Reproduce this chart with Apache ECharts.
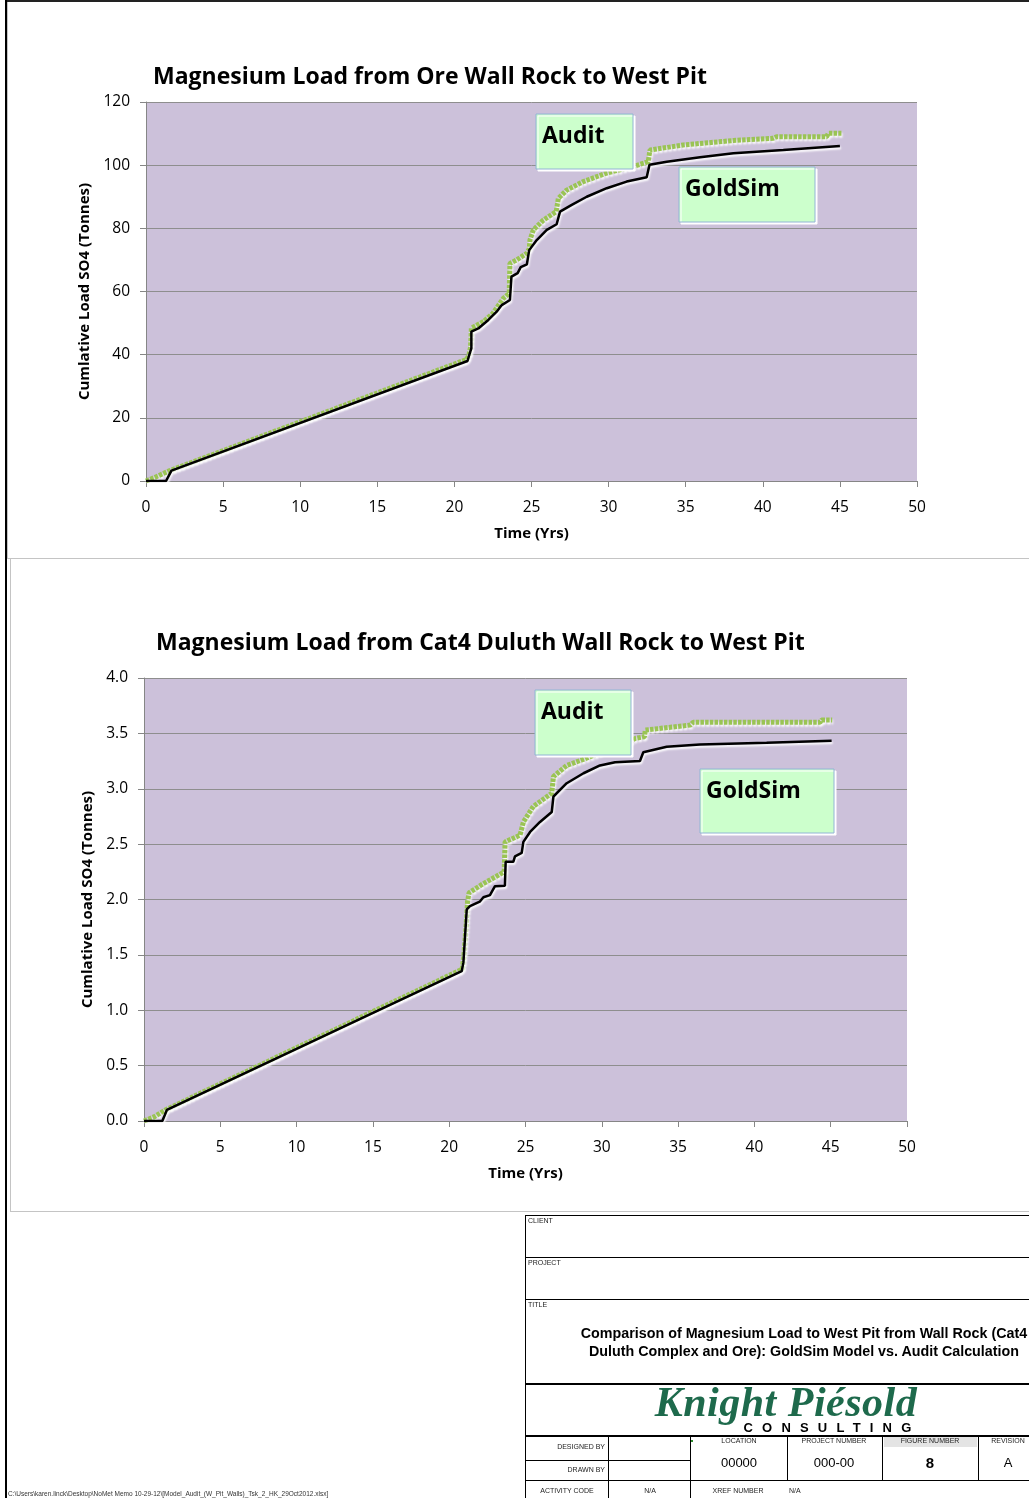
<!DOCTYPE html>
<html>
<head>
<meta charset="utf-8">
<script src="https://cdn.jsdelivr.net/npm/echarts@6/dist/echarts.min.js"></script>
<style>
  html, body { margin: 0; padding: 0; background: #fff; }
  body { width: 1029px; height: 1498px; position: relative; overflow: hidden; }
  #chart { position: absolute; left: 0; top: 0; width: 1029px; height: 1498px; }
  .ln { position: absolute; pointer-events: none; }
  .tb { position: absolute; font-family: "Liberation Sans", Arial, sans-serif; color: #000; white-space: nowrap; }
  .sm { font-size: 7px; color: #222; }
  .ctr { transform: translateX(-50%); text-align: center; }
</style>
</head>
<body>
<div id="chart"></div>

<!-- sheet frame -->
<div class="ln" style="left:5px;top:0;width:1024px;height:2px;background:#222"></div>
<div class="ln" style="left:5px;top:0;width:2px;height:1498px;background:#000"></div>
<div class="ln" style="left:7px;top:2px;width:1px;height:557px;background:#c4c4c4"></div>
<div class="ln" style="left:7px;top:558px;width:1022px;height:1px;background:#c4c4c4"></div>
<div class="ln" style="left:10px;top:559px;width:1px;height:652px;background:#c4c4c4"></div>
<div class="ln" style="left:10px;top:1211px;width:1019px;height:1px;background:#c4c4c4"></div>

<!-- title block -->
<div class="ln" style="left:525px;top:1215px;width:560px;height:290px;border:1.5px solid #000;box-sizing:border-box"></div>
<div class="ln" style="left:525px;top:1257px;width:560px;height:1px;background:#000"></div>
<div class="ln" style="left:525px;top:1299px;width:560px;height:1px;background:#000"></div>
<div class="ln" style="left:525px;top:1383px;width:560px;height:1.5px;background:#000"></div>
<div class="ln" style="left:525px;top:1435px;width:560px;height:1.5px;background:#000"></div>
<div class="ln" style="left:525px;top:1460px;width:165px;height:1px;background:#000"></div>
<div class="ln" style="left:525px;top:1480px;width:560px;height:1px;background:#000"></div>
<div class="ln" style="left:608px;top:1435px;width:1px;height:63px;background:#000"></div>
<div class="ln" style="left:690px;top:1435px;width:1px;height:63px;background:#000"></div>
<div class="ln" style="left:787px;top:1435px;width:1px;height:45px;background:#000"></div>
<div class="ln" style="left:882px;top:1435px;width:1px;height:45px;background:#000"></div>
<div class="ln" style="left:978px;top:1435px;width:1px;height:45px;background:#000"></div>
<div class="ln" style="left:884px;top:1437px;width:93px;height:10px;background:#e4e4e4"></div>

<div class="tb sm" style="left:528px;top:1217px">CLIENT</div>
<div class="tb sm" style="left:528px;top:1259px">PROJECT</div>
<div class="tb sm" style="left:528px;top:1301px">TITLE</div>
<div class="tb ctr" style="left:804px;top:1324px;font-size:14.3px;font-weight:bold;line-height:18px">Comparison of Magnesium Load to West Pit from Wall Rock (Cat4<br>Duluth Complex and Ore): GoldSim Model vs. Audit Calculation</div>
<div class="tb ctr" style="left:786px;top:1378px;font-family:'Liberation Serif',serif;font-style:italic;font-weight:bold;font-size:42px;color:#1e6a4c;letter-spacing:0.5px">Knight Piésold</div>
<div class="tb ctr" style="left:832px;top:1421px;font-size:13px;font-weight:900;letter-spacing:9.2px;line-height:13px">CONSULTING</div>

<div class="tb sm" style="left:526px;width:79px;text-align:right;top:1443px">DESIGNED BY</div>
<div class="tb sm" style="left:526px;width:79px;text-align:right;top:1466px">DRAWN BY</div>
<div class="tb sm ctr" style="left:567px;top:1487px">ACTIVITY CODE</div>
<div class="tb sm ctr" style="left:650px;top:1487px">N/A</div>
<div class="tb sm ctr" style="left:738px;top:1487px">XREF NUMBER</div>
<div class="tb sm" style="left:789px;top:1487px">N/A</div>
<div class="tb sm ctr" style="left:739px;top:1437px">LOCATION</div>
<div class="tb sm ctr" style="left:834px;top:1437px">PROJECT NUMBER</div>
<div class="tb sm ctr" style="left:930px;top:1437px">FIGURE NUMBER</div>
<div class="tb sm ctr" style="left:1008px;top:1437px">REVISION</div>
<div class="tb ctr" style="left:739px;top:1455px;font-size:13px">00000</div>
<div class="tb ctr" style="left:834px;top:1455px;font-size:13px">000-00</div>
<div class="tb ctr" style="left:930px;top:1454px;font-size:15px;font-weight:bold">8</div>
<div class="tb ctr" style="left:1008px;top:1455px;font-size:13px">A</div>
<div class="ln" style="left:691px;top:1440px;width:2px;height:2px;background:#2a8a2a"></div>

<div class="tb" style="left:8px;top:1490px;font-size:6.5px;color:#333">C:\Users\karen.linck\Desktop\NoMet Memo 10-29-12\[Model_Audit_(W_Pit_Walls)_Tsk_2_HK_29Oct2012.xlsx]</div>

<script>
// Ore wall rock: cumulative load (tonnes) against time (years)
const oreGoldSimYears  = [0, 1.3, 1.65, 20.85, 21.0, 21.1, 21.1, 21.55, 22.2, 22.74, 23.07, 23.6, 23.7, 24.1, 24.3, 24.7, 24.85, 25.34, 25.99, 26.63, 26.85, 27.61, 28.58, 29.88, 31.17, 32.47, 32.65, 33.77, 35.93, 38.09, 41.33, 45.0];
const oreGoldSimLoad   = [0, 0, 3.3, 38.0, 40.5, 42.0, 47.3, 48.3, 51.0, 53.6, 55.7, 57.3, 64.7, 65.8, 67.7, 68.6, 73.1, 76.3, 79.5, 81.3, 85.3, 87.4, 90.0, 92.7, 94.8, 96.2, 100.1, 101.1, 102.5, 103.8, 104.8, 106.1];
const oreAuditYears    = [0, 0.6, 1.55, 20.8, 20.95, 21.05, 21.1, 21.9, 22.5, 23.17, 23.55, 23.6, 24.04, 24.69, 24.85, 24.9, 25.12, 25.77, 26.6, 26.74, 27.28, 28.36, 29.88, 31.6, 32.57, 32.68, 34.85, 38.09, 40.68, 40.9, 44.14, 44.25, 45.1];
const oreAuditLoad     = [0, 1.2, 3.3, 38.5, 40.0, 42.5, 48.4, 50.5, 53.1, 57.8, 59.4, 68.9, 70.0, 72.1, 73.5, 76.3, 79.5, 82.6, 85.3, 89.5, 92.1, 94.8, 97.5, 99.6, 101.1, 104.8, 106.4, 107.8, 108.5, 109.0, 109.0, 110.1, 110.1];

// Cat4 Duluth wall rock
const dulGoldSimYears  = [0, 1.2, 1.5, 20.82, 20.93, 21.15, 21.36, 22.0, 22.24, 22.67, 23.0, 23.65, 23.7, 24.2, 24.31, 24.75, 24.86, 25.3, 25.95, 26.72, 26.83, 27.7, 28.8, 29.88, 30.87, 32.5, 32.72, 34.25, 36.43, 40.8, 45.06];
const dulGoldSimLoad   = [0, 0, 0.10, 1.353, 1.43, 1.91, 1.94, 1.98, 2.02, 2.04, 2.12, 2.125, 2.34, 2.34, 2.39, 2.42, 2.52, 2.61, 2.70, 2.79, 2.93, 3.05, 3.14, 3.21, 3.24, 3.25, 3.33, 3.38, 3.40, 3.416, 3.434];
const dulAuditYears    = [0, 0.7, 1.4, 20.85, 20.95, 21.1, 21.2, 21.3, 22.2, 23.1, 23.6, 23.66, 24.64, 24.86, 25.51, 26.72, 26.83, 27.7, 28.69, 30.5, 31.5, 32.2, 32.8, 32.85, 35.8, 35.99, 44.3, 44.4, 45.1];
const dulAuditLoad     = [0, 0.04, 0.10, 1.37, 1.48, 1.75, 1.98, 2.06, 2.14, 2.21, 2.25, 2.52, 2.58, 2.70, 2.84, 2.96, 3.11, 3.21, 3.26, 3.36, 3.40, 3.455, 3.47, 3.53, 3.575, 3.60, 3.60, 3.62, 3.62];

const xTicks = { min: 0, max: 50, interval: 5 };
const oreYTicks = { min: 0, max: 120, interval: 20 };
const dulYTicks = { min: 0, max: 4, interval: 0.5 };

const chartTitles = ['Magnesium Load from Ore Wall Rock to West Pit', 'Magnesium Load from Cat4 Duluth Wall Rock to West Pit'];
const yName = 'Cumlative Load SO4 (Tonnes)';
const xName = 'Time (Yrs)';

const FONT = '"Open Sans", "Noto Sans", sans-serif';
const zipXY = (xs, ys) => xs.map((x, i) => [x, ys[i]]);

const axisGray = '#868686';
const gridGray = '#8e8e8e';

function xAxisFor(gi) {
  return {
    type: 'value', gridIndex: gi, ...xTicks,
    name: xName, nameLocation: 'middle', nameGap: 45,
    nameTextStyle: { fontFamily: FONT, fontSize: 15, fontWeight: 'bold', color: '#000' },
    axisLine: { show: true, lineStyle: { color: axisGray, width: 1 } },
    axisTick: { show: true, length: 6, lineStyle: { color: axisGray } },
    axisLabel: { fontFamily: FONT, fontSize: 15.5, color: '#000', margin: 19 },
    splitLine: { show: false }
  };
}
function yAxisFor(gi, ticks, gap, fmt) {
  return {
    type: 'value', gridIndex: gi, ...ticks,
    name: yName, nameLocation: 'middle', nameGap: gap, nameRotate: 90,
    nameTextStyle: { fontFamily: FONT, fontSize: 15, fontWeight: 'bold', color: '#000' },
    axisLine: { show: true, lineStyle: { color: axisGray, width: 1 } },
    axisTick: { show: true, length: 6, lineStyle: { color: axisGray } },
    axisLabel: { fontFamily: FONT, fontSize: 15.5, color: '#000', margin: 16, formatter: fmt },
    splitLine: { show: true, lineStyle: { color: gridGray, width: 1 } }
  };
}
function goldSimSeries(gi, data) {
  return {
    type: 'line', xAxisIndex: gi, yAxisIndex: gi, data, showSymbol: false, z: 3,
    lineStyle: { color: '#000', width: 2.5, shadowColor: 'rgba(255,255,255,0.95)', shadowBlur: 2, shadowOffsetX: 1, shadowOffsetY: 2 }
  };
}
function auditSeries(gi, data) {
  return {
    type: 'line', xAxisIndex: gi, yAxisIndex: gi, data, showSymbol: false, z: 2,
    lineStyle: { color: '#9ac454', width: 5, type: [3.5, 1.2], cap: 'butt', shadowColor: 'rgba(255,255,255,0.95)', shadowBlur: 2, shadowOffsetX: 1, shadowOffsetY: 2 }
  };
}
function noteBox(x, y, w, h, label) {
  return [
    { type: 'rect', z: 100, shape: { x, y, width: w, height: h },
      style: { fill: '#ccffcc', stroke: '#93b4d6', lineWidth: 1, shadowColor: 'rgba(255,255,255,1)', shadowOffsetX: 2, shadowOffsetY: 2 } },
    { type: 'text', z: 101, x: x + 6, y: y + 11,
      style: { text: label, font: 'bold 23px ' + FONT, fill: '#000' } }
  ];
}

const chart = echarts.init(document.getElementById('chart'), null, { renderer: 'canvas' });
chart.setOption({
  animation: false,
  backgroundColor: 'transparent',
  title: [
    { text: chartTitles[0], left: 148, top: 61, textStyle: { fontFamily: FONT, fontSize: 23, fontWeight: 'bold', color: '#000' } },
    { text: chartTitles[1], left: 151, top: 627, textStyle: { fontFamily: FONT, fontSize: 23, fontWeight: 'bold', color: '#000' } }
  ],
  grid: [
    { left: 146, top: 102, width: 771, height: 379, show: true, backgroundColor: '#ccc1da', borderWidth: 0 },
    { left: 144, top: 678, width: 763, height: 443, show: true, backgroundColor: '#ccc1da', borderWidth: 0 }
  ],
  xAxis: [xAxisFor(0), xAxisFor(1)],
  yAxis: [
    yAxisFor(0, oreYTicks, 46, v => String(v)),
    yAxisFor(1, dulYTicks, 43, v => v.toFixed(1))
  ],
  series: [
    auditSeries(0, zipXY(oreAuditYears, oreAuditLoad)),
    goldSimSeries(0, zipXY(oreGoldSimYears, oreGoldSimLoad)),
    auditSeries(1, zipXY(dulAuditYears, dulAuditLoad)),
    goldSimSeries(1, zipXY(dulGoldSimYears, dulGoldSimLoad))
  ],
  graphic: [
    ...noteBox(536, 114, 97, 55, 'Audit'),
    ...noteBox(679, 167, 136, 55, 'GoldSim'),
    ...noteBox(535, 690, 96, 65, 'Audit'),
    ...noteBox(700, 769, 134, 64, 'GoldSim')
  ]
});
</script>
</body>
</html>
